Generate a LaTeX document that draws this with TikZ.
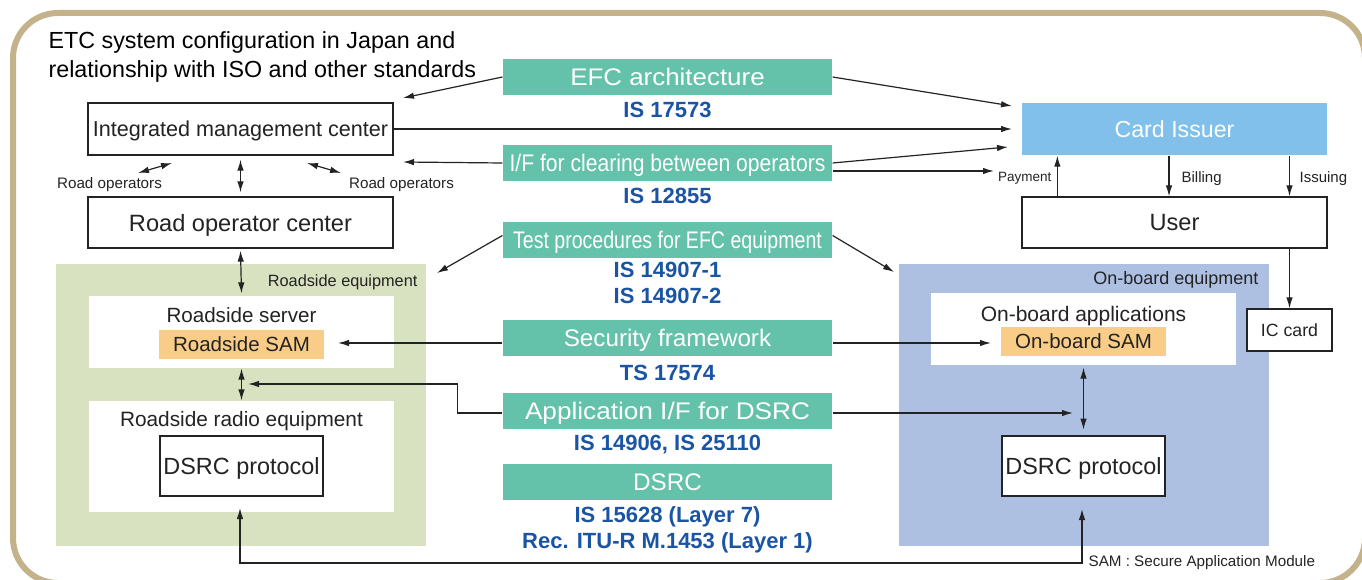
\documentclass[tikz,border=0pt]{standalone}
\usepackage{fontspec}
\setmainfont{Liberation Sans}
\usepackage{graphicx}
\usetikzlibrary{arrows.meta}
\definecolor{framebeige}{RGB}{195,178,138}
\definecolor{stdteal}{RGB}{100,193,170}
\definecolor{issuerblue}{RGB}{128,192,234}
\definecolor{roadgreen}{RGB}{216,226,192}
\definecolor{boardblue}{RGB}{174,192,226}
\definecolor{samorange}{RGB}{249,205,136}
\definecolor{isblue}{RGB}{28,84,164}
\definecolor{wire}{RGB}{35,35,35}
\tikzset{
	panel/.style    = {draw=wire, line width=1.3pt, fill=white, inner sep=0pt,
		minimum width=305pt, minimum height=51pt, text depth=0pt},
	region/.style   = {inner sep=0pt, minimum width=370pt, minimum height=282pt},
	whitebox/.style = {fill=white, inner sep=0pt, minimum width=305pt},
	sambox/.style   = {fill=samorange, inner sep=0pt, minimum width=165pt,
		minimum height=29pt, text depth=0pt, font=\fsz{20.5}},
	protobox/.style = {draw, line width=2.8pt, fill=white, inner sep=0pt,
		minimum width=163pt, minimum height=60pt, text depth=0pt, font=\fsz{23.4}},
	stdbox/.style   = {fill=stdteal, text=white, inner sep=0pt, minimum width=329pt,
		minimum height=36pt, text depth=0pt, font=\fsz{24}},
	stdno/.style    = {text=isblue, inner sep=0pt, text depth=0pt, font=\bfseries\fsz{22}},
	tag/.style      = {inner sep=0pt, text depth=0pt}
}
\newcommand{\fsz}[1]{\fontsize{#1}{#1}\selectfont}
\newcommand{\xstretch}[2]{\scalebox{#1}[1]{#2}}

\begin{document}
\begin{tikzpicture}[x=1pt, y=-1pt, line width=1.2pt, wire, >={Latex[length=11pt,width=6.5pt]}]
	\useasboundingbox (0,0) rectangle (1362,580);
	\draw[framebeige, line width=6pt, rounded corners=45pt] (13,13) rectangle (1365,583);
	\node[anchor=north west, align=left, inner sep=0pt, text=black,
		font=\fontsize{23.3}{29}\selectfont] (title) at (48,31)
		{ETC system configuration in Japan and\\relationship with ISO and other standards};
	
	% equipment areas
	\draw
	node at (241,405)[region, fill=roadgreen] (rsarea) {}
	node at (1084,404.5)[region, fill=boardblue] (obarea) {}
	node at (418,281)[tag, anchor=east, font=\fsz{16.3}] (rstag) {Roadside equipment}
	node at (1259,278)[tag, anchor=east, font=\fsz{18}] (obtag) {On-board equipment}
	node at (241.5,332)[whitebox, minimum height=72pt] (rsserver) {}
	node at (241.5,456.5)[whitebox, minimum height=111pt] (rsradio) {}
	node at (1083.5,329)[whitebox, minimum height=72pt] (obapp) {}
	node at (241.5,315)[tag, font=\fsz{20.6}] (rsservertxt) {Roadside server}
	node at (241.5,418.5)[tag, font=\fsz{20.8}] (rsradiotxt) {Roadside radio equipment}
	node at (1083.5,314)[tag, font=\fsz{21}] (obapptxt) {On-board applications}
	node at (241.5,344.5)[sambox] (rssam) {Roadside SAM}
	node at (1083.5,341.5)[sambox] (obsam) {On-board SAM}
	node at (241.5,466)[protobox] (rsdsrc) {DSRC protocol}
	node at (1083.5,466)[protobox] (obdsrc) {DSRC protocol};
	
	% centers, issuer and user
	\draw
	node at (240.5,129)[panel, minimum height=52pt] (imc) {\fsz{21.6}Integrated management center}
	node at (240.5,222.5)[panel] (roc) {\fsz{23.6}Road operator center}
	node at (1174.5,129)[panel, draw=none, fill=issuerblue, text=white, minimum height=52pt] (card) {\fsz{23.2}Card Issuer}
	node at (1174.5,222.5)[panel] (user) {\fsz{23.6}User}
	node at (1289.5,330)[panel, minimum width=85pt, minimum height=42pt] (iccard) {\fsz{17.7}IC card}
	node at (109.5,183)[tag, font=\fsz{15.2}] (roleft) {Road operators}
	node at (401.5,183)[tag, font=\fsz{15.2}] (roright) {Road operators}
	node at (1052,177)[tag, anchor=east, font=\fsz{13.5}] (paytxt) {Payment}
	node at (1181,177)[tag, anchor=west, font=\fsz{15}] (billtxt) {Billing}
	node at (1299,177)[tag, anchor=west, font=\fsz{15}] (issuetxt) {Issuing}
	node at (1088,561)[tag, anchor=west, font=\fsz{15.2}] (samnote) {SAM : Secure Application Module};
	
	% standards
	\draw
	node at (667.5,77)[stdbox] (efc) {\xstretch{1.08}{EFC architecture}}
	node at (667.5,109.5)[stdno] (efcno) {IS 17573}
	node at (667.5,163)[stdbox] (clr) {\xstretch{0.88}{I/F for clearing between operators}}
	node at (667.5,196)[stdno] (clrno) {IS 12855}
	node at (667.5,239.5)[stdbox] (tst) {\xstretch{0.815}{Test procedures for EFC equipment}}
	node at (667.5,270)[stdno] (tstnoa) {IS 14907-1}
	node at (667.5,295.5)[stdno] (tstnob) {IS 14907-2}
	node at (667.5,338)[stdbox] (sec) {\xstretch{1.01}{Security framework}}
	node at (667.5,372.5)[stdno] (secno) {TS 17574}
	node at (667.5,411)[stdbox] (api) {\xstretch{1.09}{Application I/F for DSRC}}
	node at (667.5,442.5)[stdno] (apino) {IS 14906, IS 25110}
	node at (667.5,482)[stdbox] (dsrc) {\xstretch{1.01}{DSRC}}
	node at (667.5,515)[stdno] (dsrcnoa) {IS 15628 (Layer 7)}
	node at (667.5,540.5)[stdno] (dsrcnob) {Rec. ITU-R M.1453 (Layer 1)};
	
	% free arrow ends
	\coordinate (efctipL) at (403,98);
	\coordinate (efctipR) at (1012,106);
	\coordinate (imctip) at (1012,129);
	\coordinate (clrtipL) at (403,162);
	\coordinate (clrtipR) at (1008,147);
	\coordinate (paytip) at (994,171);
	\coordinate (tsttipL) at (437,273);
	\coordinate (tsttipR) at (894,272);
	\coordinate (sectipL) at (338,343);
	\coordinate (sectipR) at (991,343);
	\coordinate (apitipL) at (248,384);
	\coordinate (apitipR) at (1073,413);
	\coordinate (rsup) at (240,508);
	\coordinate (obup) at (1082,509);
	\coordinate (roa) at (138,173);
	\coordinate (rob) at (172,163);
	\coordinate (roc2) at (307,163);
	\coordinate (rod) at (341,173);
	
	\draw[->](efc.west) -- (efctipL);
	\draw[->](efc.east) -- (efctipR);
	\draw[->](imc.east) -- (imctip);
	\draw[->](clr.west) -- (clrtipL);
	\draw[->](clr.east) -- (clrtipR);
	\draw[->]([yshift=-8pt]clr.east) -- (paytip);
	\draw[->]([yshift=4pt]tst.west) -- (tsttipL);
	\draw[->]([yshift=4pt]tst.east) -- (tsttipR);
	\draw[->]([yshift=-5pt]sec.west) -- (sectipL);
	\draw[->]([yshift=-5pt]sec.east) -- (sectipR);
	\draw[->]([yshift=-2pt]api.west) -- ++(-45,0) |- (apitipL);
	\draw[->]([yshift=-2pt]api.east) -- (apitipR);
	\draw[<->](rsup) -- ++(0,55) -| (obup);
	
	\draw[<->](roa) -- (rob);
	\draw[<->](roc2) -- (rod);
	\draw[<->]([yshift=-4pt]imc.south) -- ([yshift=4pt]roc.north);
	\draw[<->]([yshift=-2pt]roc.south) -- ([yshift=2pt]rsserver.north);
	\draw[<->](rsserver.south) -- (rsradio.north);
	\draw[<->]([yshift=-2pt]obapp.south) -- ([yshift=5pt]obdsrc.north);
	
	\draw[->]([xshift=36pt]user.north west) -- ([xshift=36pt]card.south west);
	\draw[->]([xshift=-5.5pt]card.south) -- ([xshift=-5.5pt]user.north);
	\draw[->](card.south -| iccard.north) -- (user.north -| iccard.north);
	\draw[->](user.south -| iccard.north) -- (iccard.north);
\end{tikzpicture}
\end{document}
